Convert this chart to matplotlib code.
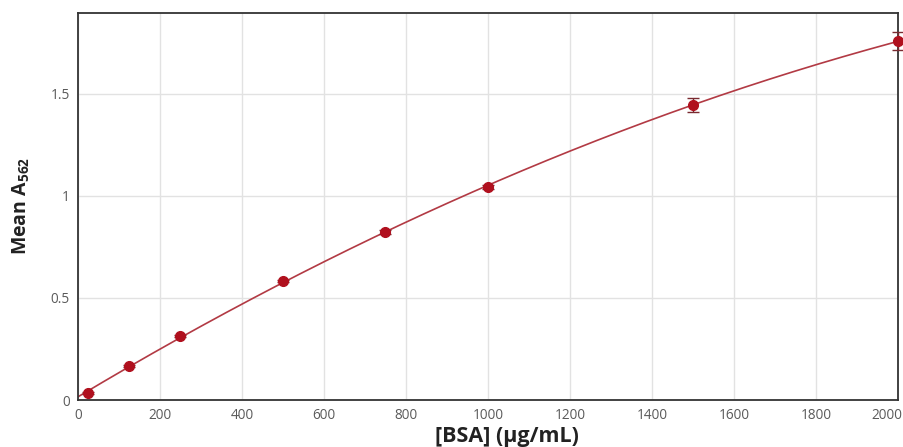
import matplotlib

matplotlib.use("agg")
from matplotlib import pyplot as plt
from matplotlib import transforms
import numpy as np

# BSA standard curve (BCA assay)
bsa = np.array([25, 125, 250, 500, 750, 1000, 1500, 2000])
mean_a562 = np.array([0.034, 0.167, 0.314, 0.583, 0.824, 1.044, 1.446, 1.760])
err = np.array([0.005, 0.005, 0.005, 0.005, 0.008, 0.008, 0.034, 0.046])
xticks = [0, 200, 400, 600, 800, 1000, 1200, 1400, 1600, 1800, 2000]
yticks = [0, 0.5, 1, 1.5]
yticklabels = ["0", "0.5", "1", "1.5"]

plt.rcParams["mathtext.fontset"] = "custom"
plt.rcParams["mathtext.rm"] = "Open Sans:bold"

fig = plt.figure(figsize=(9.04, 4.47), dpi=100)
ax = fig.add_axes([78 / 904, 47 / 447, 820 / 904, 387 / 447])

# quadratic fit through the standards
coef = np.polyfit(bsa, mean_a562, 2)
xs = np.linspace(0, 2000, 300)
ax.plot(xs, np.polyval(coef, xs), color="#b23a44", lw=1.2, zorder=2)
ax.errorbar(bsa, mean_a562, yerr=err, fmt="o", color="#b0101e", ms=7,
            ecolor="#7a2a30", elinewidth=1, capsize=4, capthick=1, zorder=3,
            clip_on=False)

ax.set_xlim(0, 2000)
ax.set_ylim(0, 1.897)
ax.set_xticks(xticks)
ax.set_yticks(yticks)
ax.set_yticklabels(yticklabels)
ax.tick_params(length=0, labelsize=9.8, labelcolor="#5a5a5a", pad=6)
for lab in ax.get_xticklabels() + ax.get_yticklabels():
    lab.set_family("Open Sans")
# last x label sits a bit inside the frame, like the original
last = ax.get_xticklabels()[-1]
last.set_transform(last.get_transform() +
                   transforms.ScaledTranslation(-0.11, 0, fig.dpi_scale_trans))
ax.grid(True, color="#e2e2e2", lw=1)
ax.set_axisbelow(True)
for s in ax.spines.values():
    s.set_color("#333333")
    s.set_linewidth(1.3)

fig.text(0.561, 0.011, "[BSA] (µg/mL)", ha="center", va="baseline",
         fontsize=15.5, fontweight="bold", family="Open Sans", color="#222222")
fig.text(0.024, 0.54, "Mean A$_{562}$", ha="center", va="center", rotation=90,
         fontsize=14, fontweight="bold", family="Open Sans", color="#222222")

fig.savefig("out.png", dpi=100)
